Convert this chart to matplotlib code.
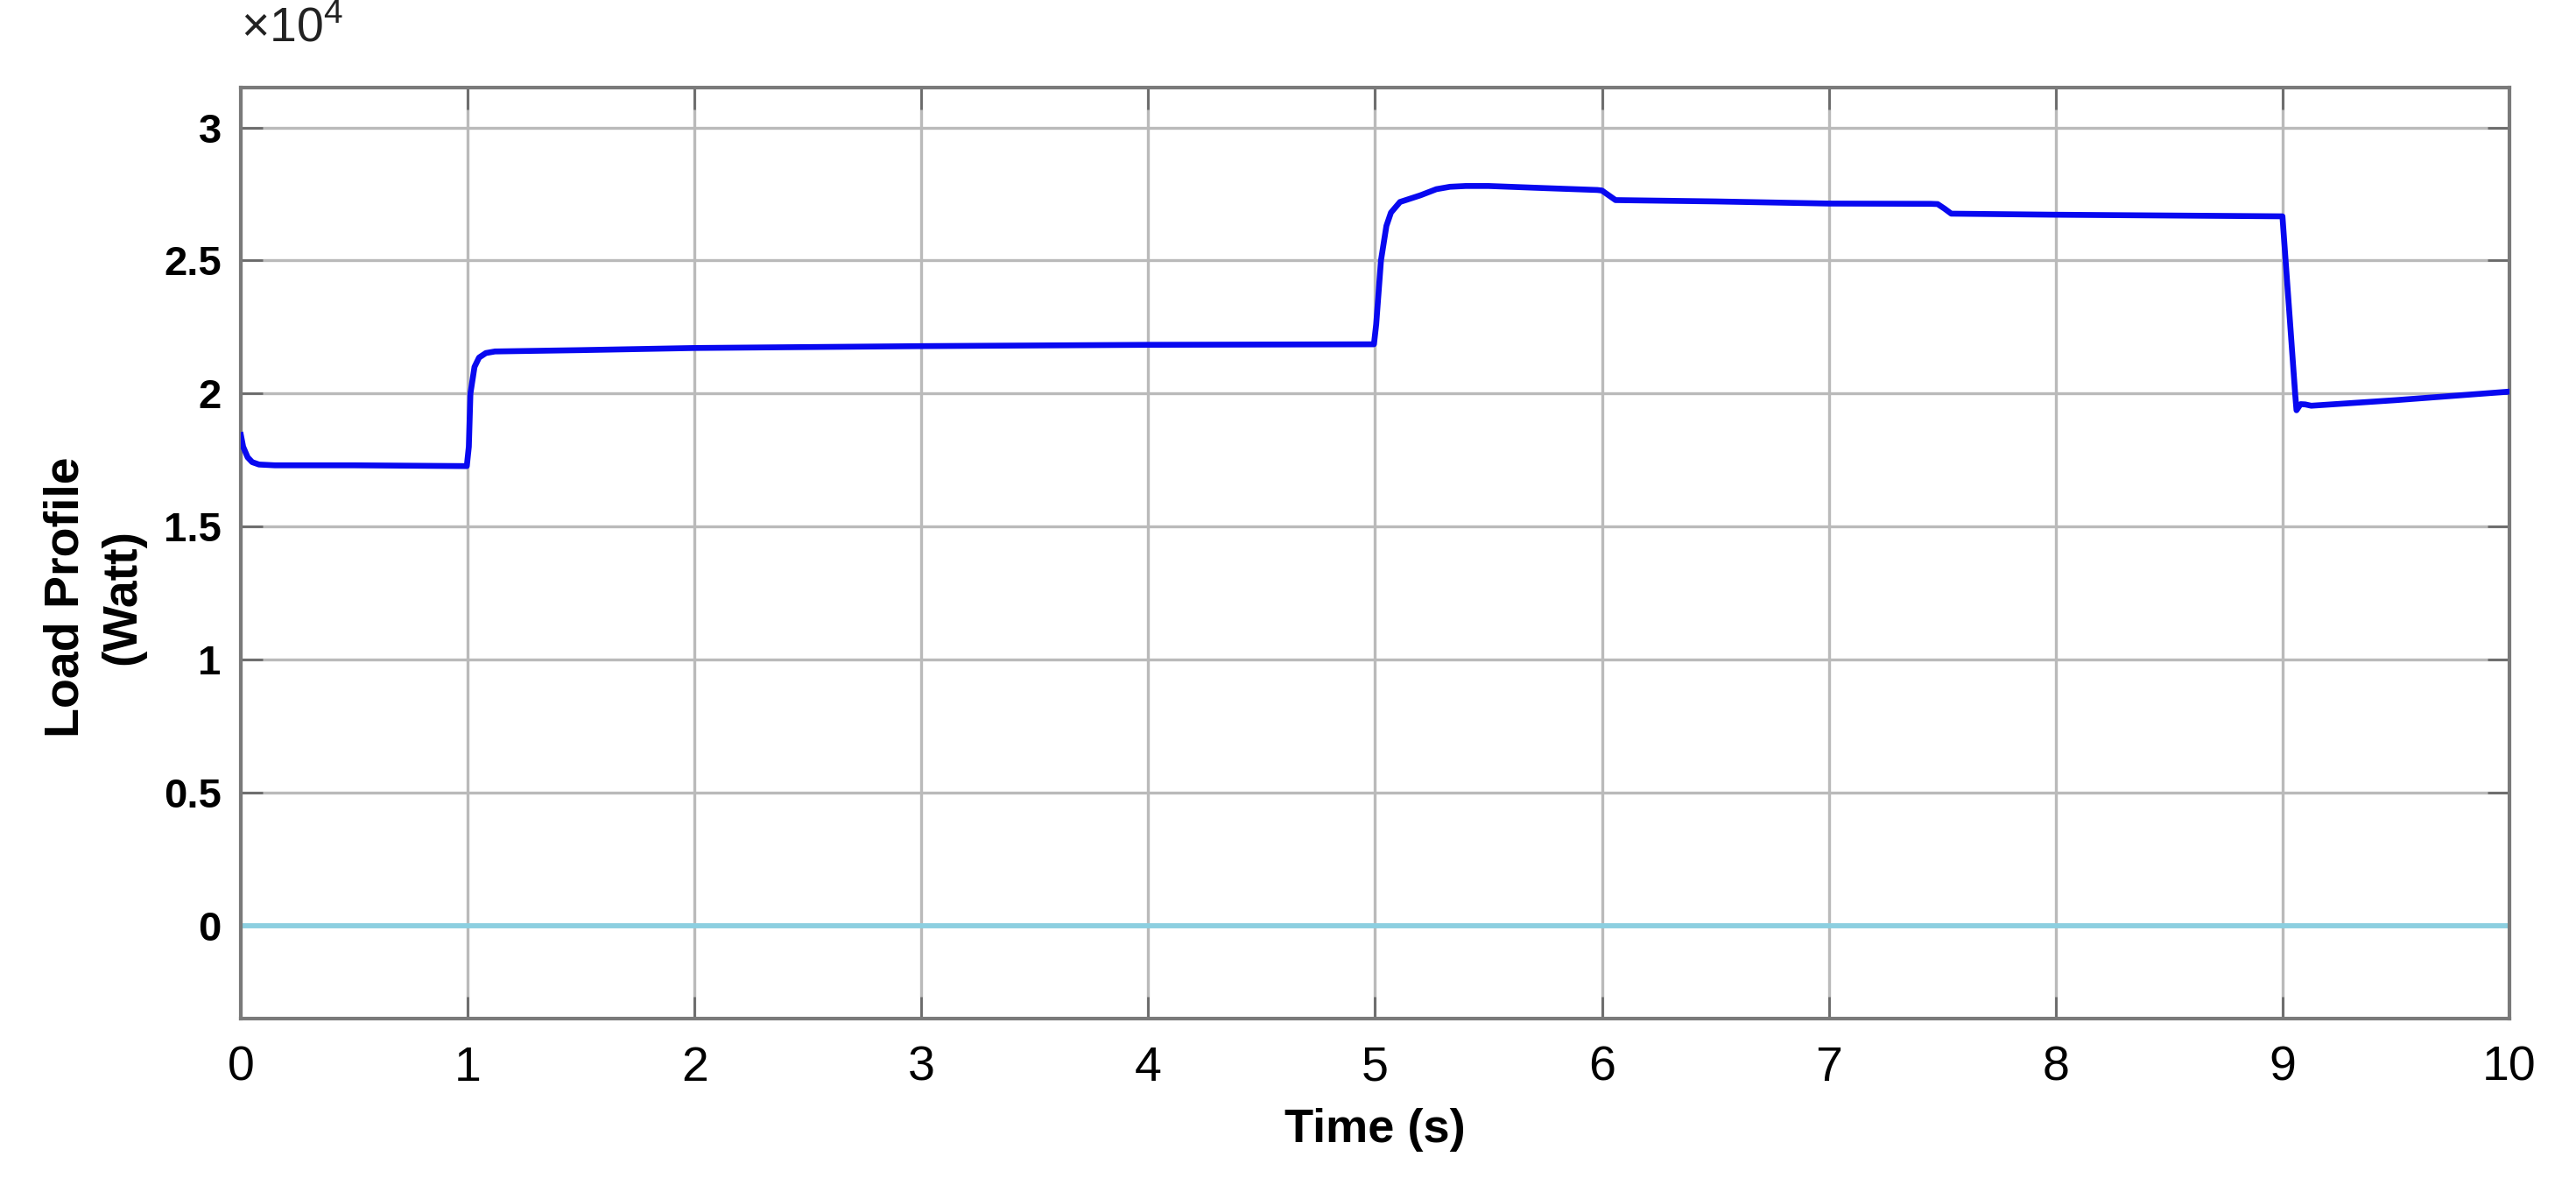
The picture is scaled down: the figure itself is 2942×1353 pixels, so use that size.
import numpy as np
import matplotlib
matplotlib.use('Agg')
import matplotlib.pyplot as plt
from matplotlib.ticker import FuncFormatter, MultipleLocator

plt.rcParams['font.family'] = ['Liberation Sans', 'DejaVu Sans']
plt.rcParams['mathtext.fontset'] = 'custom'
plt.rcParams['mathtext.rm'] = 'Liberation Sans'

# Load profile (time in s, power in W)
time_s = [0.00, 0.01, 0.03, 0.05, 0.08, 0.15, 0.50, 0.996, 1.005, 1.012, 1.03, 1.05,
          1.08, 1.12, 1.50, 2.00, 3.00, 4.00, 4.995, 5.005, 5.026, 5.05, 5.07, 5.11,
          5.20, 5.27, 5.33, 5.40, 5.50, 5.75, 5.98, 6.00, 6.03, 6.06, 6.50, 7.00, 7.45, 7.48,
          7.51, 7.54, 8.00, 8.50, 9.00, 9.01, 9.056, 9.062, 9.08, 9.10, 9.127, 9.50, 10.00]
load_w = [18440, 18000, 17600, 17420, 17330, 17300, 17300, 17270, 18000, 20000, 21000, 21350,
          21520, 21580, 21630, 21710, 21780, 21830, 21850, 22600, 25000, 26300, 26800, 27200,
          27450, 27680, 27770, 27800, 27800, 27720, 27650, 27630, 27450, 27270, 27220, 27140, 27130, 27120,
          26950, 26760, 26720, 26690, 26660, 25470, 20000, 19370, 19600, 19590, 19540, 19750, 20070]

# flat reference trace at zero
zero_t = [0.0, 10.0]
zero_w = [0.0, 0.0]

x_ticks = [0, 1, 2, 3, 4, 5, 6, 7, 8, 9, 10]

fig = plt.figure(figsize=(29.42, 13.53), dpi=100)
ax = fig.add_axes([0.0935, 0.1404, 0.8806, 0.7857])

ax.plot(time_s, load_w, color='#0808f0', lw=4.8, zorder=3)
ax.plot(zero_t, zero_w, color='#8ccfe0', lw=4.2, zorder=2)

ax.set_xlim(0, 10)
ax.set_ylim(-3500, 31500)
ax.set_xticks(x_ticks)
ax.yaxis.set_major_locator(MultipleLocator(5000))
ax.yaxis.set_major_formatter(FuncFormatter(lambda v, _: '%g' % (v / 1e4)))

ax.grid(True, color='#bababa', lw=2.4)
ax.set_axisbelow(True)
for s in ax.spines.values():
    s.set_color('#7a7a7a')
    s.set_linewidth(3)

ax.tick_params(direction='in', length=18, width=2, color='#6a6a6a',
               top=True, right=True)
ax.tick_params(axis='x', labelsize=40, pad=22)
ax.tick_params(axis='y', labelsize=34, pad=16)
for lbl in ax.get_yticklabels():
    lbl.set_fontweight('bold')

ax.text(0.0, 1.05, r'$\times10^{4}$', transform=ax.transAxes, fontsize=40,
        ha='left', va='baseline', color='#222222')

ax.set_xlabel('Time (s)', fontsize=39, fontweight='bold', labelpad=14)
ax.text(-0.0645, 0.453, 'Load Profile\n(Watt)', transform=ax.transAxes, rotation=90,
        fontsize=40, fontweight='bold', ha='center', va='center',
        multialignment='center', linespacing=1.3)

fig.savefig('out.png', dpi=100)
